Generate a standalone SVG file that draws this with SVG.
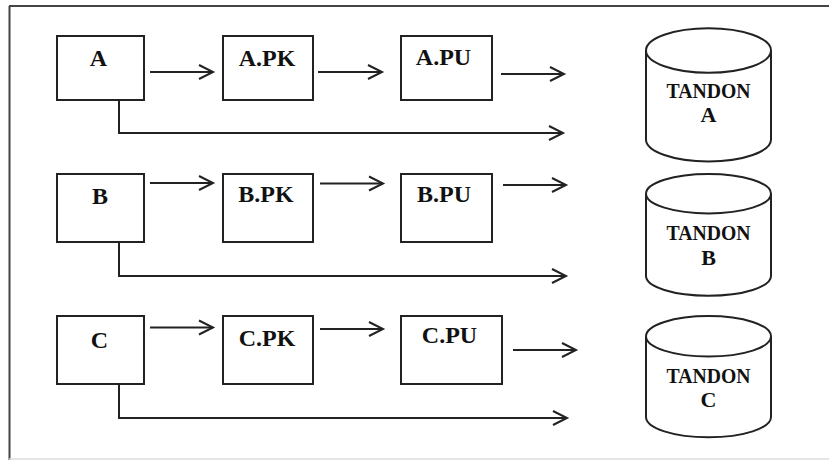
<svg xmlns="http://www.w3.org/2000/svg" width="829" height="460" viewBox="0 0 829 460">
<defs>
<marker id="ah" markerUnits="userSpaceOnUse" markerWidth="20" markerHeight="20" refX="0" refY="0" viewBox="-16 -10 20 20" orient="auto" overflow="visible">
<path d="M-14,-7 L0,0 L-14,7" fill="none" stroke="#222" stroke-width="2"/>
</marker>
</defs>
<style>
.box{fill:#fff;stroke:#222;stroke-width:2}
.cyl{fill:#fff;stroke:#222;stroke-width:2}
.ln{fill:none;stroke:#222;stroke-width:2}
.arr{fill:none;stroke:#222;stroke-width:2;marker-end:url(#ah)}
.t{font-family:"Liberation Serif","Times New Roman",serif;font-weight:bold;font-size:24px;fill:#111;text-anchor:middle}
.tc{font-family:"Liberation Serif","Times New Roman",serif;font-weight:bold;font-size:22px;fill:#111;text-anchor:middle}
</style>
<rect width="829" height="460" fill="#fff"/>
<g id="frame">
<line x1="9" y1="6" x2="829" y2="6" stroke="#444" stroke-width="2"/>
<line x1="9.5" y1="6" x2="9.5" y2="460" stroke="#444" stroke-width="2"/>
<line x1="9" y1="459" x2="829" y2="459" stroke="#ddd" stroke-width="1.5"/>
</g>
<g id="connectors">
<line class="arr" x1="150" y1="72" x2="213" y2="72"/>
<line class="arr" x1="318" y1="72" x2="382" y2="72"/>
<line class="arr" x1="501" y1="74" x2="564" y2="74"/>
<path class="arr" d="M119,100 V133 H563"/>
<line class="arr" x1="150" y1="183" x2="213" y2="183"/>
<line class="arr" x1="320" y1="183.5" x2="383" y2="183.5"/>
<line class="arr" x1="503" y1="185" x2="566" y2="185"/>
<path class="arr" d="M119,242 V276 H566"/>
<line class="arr" x1="150" y1="327.5" x2="213" y2="327.5"/>
<line class="arr" x1="320" y1="329" x2="383" y2="329"/>
<line class="arr" x1="513" y1="350" x2="576" y2="350"/>
<path class="arr" d="M119,384 V418 H567"/>
</g>
<g id="nodeA"><rect class="box" x="57" y="36" width="87" height="64"/><text class="t" x="98.5" y="66">A</text></g>
<g id="nodeAPK"><rect class="box" x="223" y="36" width="90" height="64"/><text class="t" x="267" y="66">A.PK</text></g>
<g id="nodeAPU"><rect class="box" x="401" y="36" width="91" height="64"/><text class="t" x="443.5" y="65">A.PU</text></g>
<g id="nodeB"><rect class="box" x="57" y="174" width="87" height="68"/><text class="t" x="100" y="203.5">B</text></g>
<g id="nodeBPK"><rect class="box" x="223" y="174" width="90" height="68"/><text class="t" x="266" y="202">B.PK</text></g>
<g id="nodeBPU"><rect class="box" x="401" y="174" width="91" height="68"/><text class="t" x="444" y="201.5">B.PU</text></g>
<g id="nodeC"><rect class="box" x="57" y="316" width="87" height="68"/><text class="t" x="99.5" y="347.5">C</text></g>
<g id="nodeCPK"><rect class="box" x="223" y="316" width="90" height="68"/><text class="t" x="267" y="345.5">C.PK</text></g>
<g id="nodeCPU"><rect class="box" x="401" y="316" width="101" height="68"/><text class="t" x="449.5" y="343">C.PU</text></g>
<g id="tandonA">
<path class="cyl" d="M646,50.5 V139.5 A62.5,22 0 0 0 771,139.5 V50.5"/>
<ellipse class="cyl" cx="708.5" cy="50.5" rx="62.5" ry="22.2"/>
<text class="tc" x="708.5" y="98" textLength="84" lengthAdjust="spacingAndGlyphs">TANDON</text>
<text class="tc" x="708.5" y="122">A</text>
</g>
<g id="tandonB">
<path class="cyl" d="M646,193.7 V276 A62.5,19.7 0 0 0 771,276 V193.7"/>
<ellipse class="cyl" cx="708.5" cy="193.7" rx="62.5" ry="19.7"/>
<text class="tc" x="708.5" y="240" textLength="84" lengthAdjust="spacingAndGlyphs">TANDON</text>
<text class="tc" x="708.5" y="265">B</text>
</g>
<g id="tandonC">
<path class="cyl" d="M646,336.3 V417 A62.5,20.3 0 0 0 771,417 V336.3"/>
<ellipse class="cyl" cx="708.5" cy="336.3" rx="62.5" ry="20.3"/>
<text class="tc" x="708.5" y="383" textLength="84" lengthAdjust="spacingAndGlyphs">TANDON</text>
<text class="tc" x="708.5" y="407">C</text>
</g>
</svg>
